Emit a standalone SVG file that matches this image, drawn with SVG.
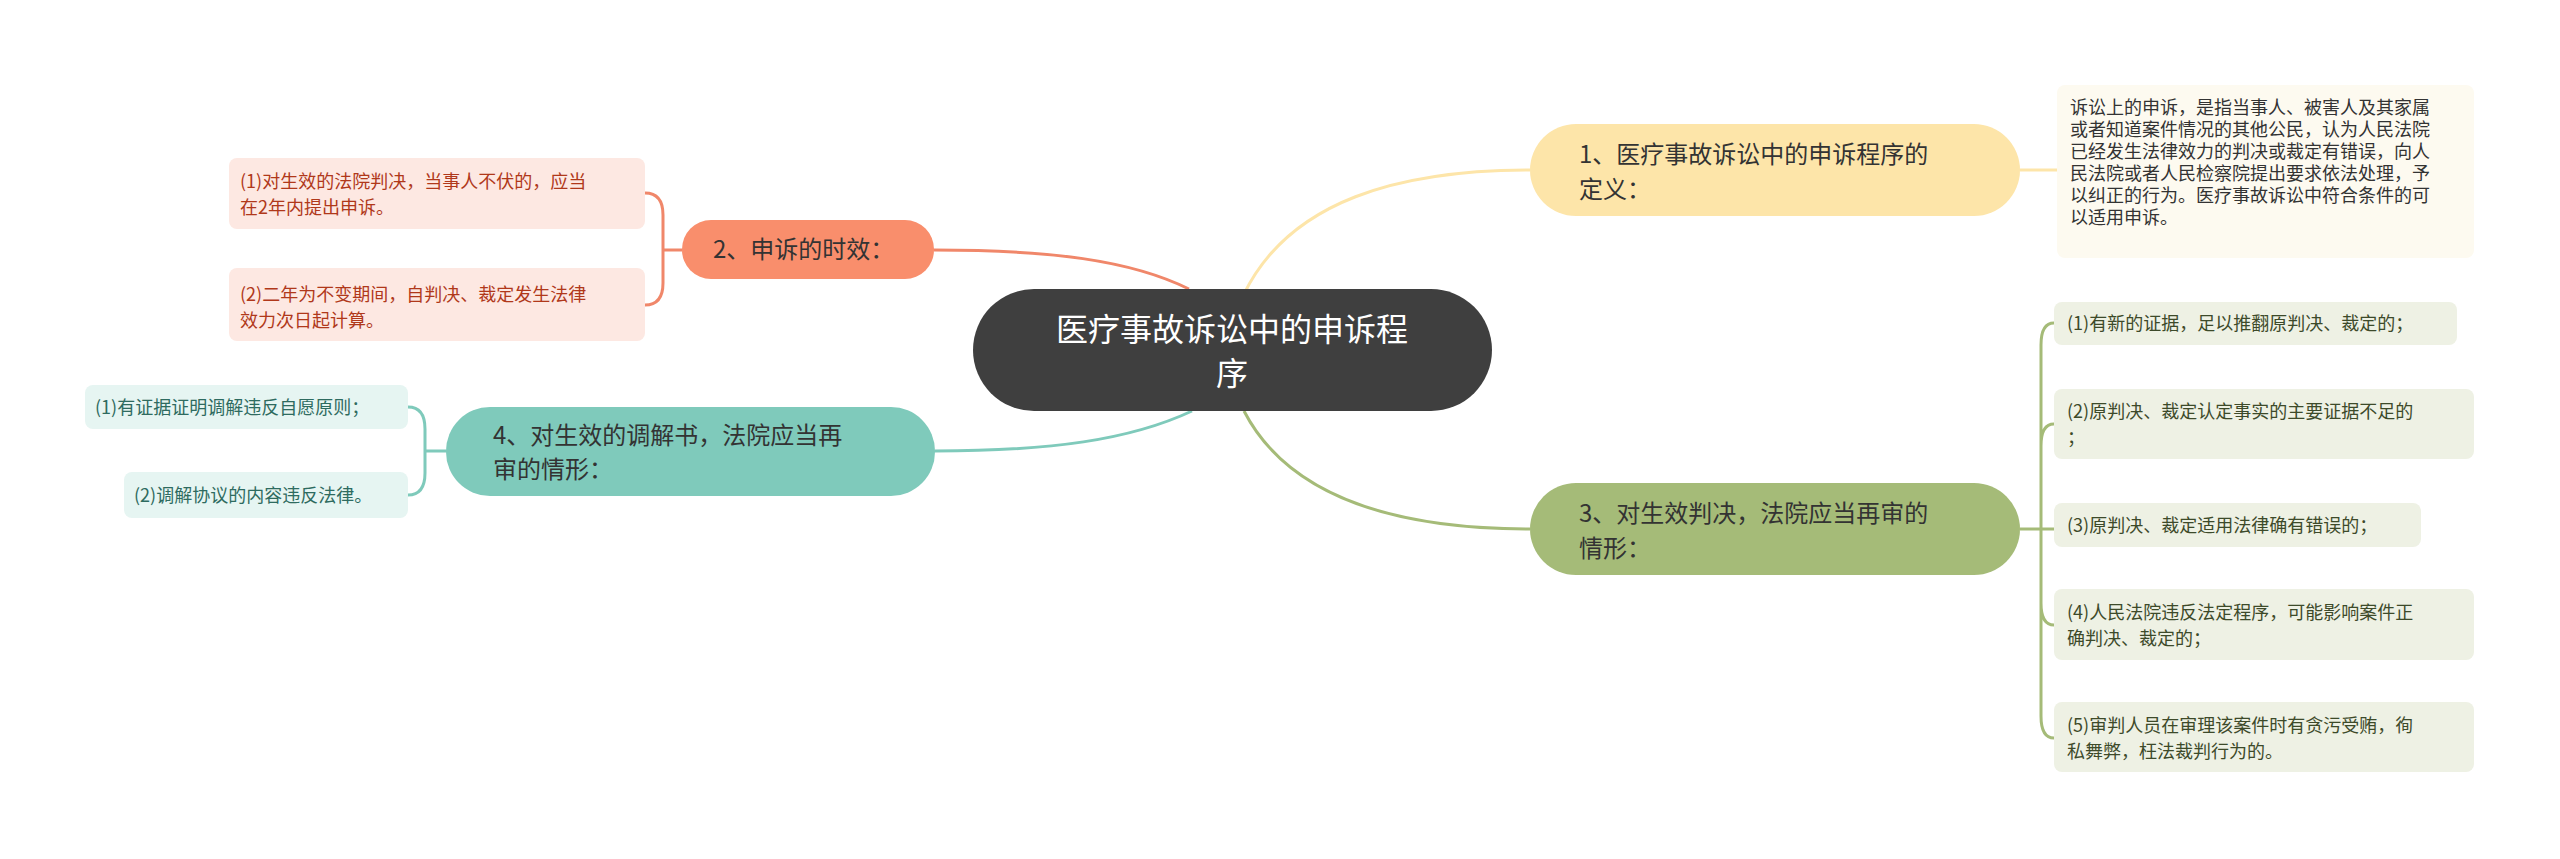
<svg xmlns="http://www.w3.org/2000/svg" width="2560" height="859" viewBox="0 0 2560 859">
<style>
text{font-family:"Noto Sans CJK SC","Liberation Sans",sans-serif}
.c{fill:none;stroke-width:3}
.m{font-size:24px;fill:#333}
.l{font-size:18px}
</style>
<rect width="2560" height="859" fill="#fff"/>
<g id="connectors">
<path class="c" stroke="#fde5a9" d="M1244,294 C1290,200 1400,170 1530,170"/>
<path class="c" stroke="#a5bb78" d="M1244,411 C1290,500 1400,529 1530,529"/>
<path class="c" stroke="#f0876a" d="M1189,289 C1130,260 1050,250 934,250"/>
<path class="c" stroke="#7fcabb" d="M1192,411 C1130,440 1050,451 935,451"/>
<path class="c" stroke="#fde5a9" d="M2020,170 H2057"/>
<path class="c" stroke="#a5bb78" d="M2020,529 H2041 M2041,529 V345 Q2041,323 2054,323 M2041,529 V446 Q2041,424 2054,424 M2041,529 H2054 M2041,529 V603 Q2041,625 2054,625 M2041,529 V716 Q2041,738 2054,738"/>
<path class="c" stroke="#f0876a" d="M682,250 H663 M663,250 V215 Q663,193 645,193 M663,250 V283 Q663,305 645,305"/>
<path class="c" stroke="#7fcabb" d="M446,451 H425 M425,451 V429 Q425,407 408,407 M425,451 V473 Q425,495 408,495"/>
</g>
<g id="center"><rect x="973" y="289" width="519" height="122" rx="61" fill="#3f3f3f"/>
<text x="1232" y="341" font-size="32" fill="#fff" text-anchor="middle">医疗事故诉讼中的申诉程</text>
<text x="1232" y="385" font-size="32" fill="#fff" text-anchor="middle">序</text></g>
<g id="n1"><rect x="1530" y="124" width="490" height="92" rx="46" fill="#fde5a9"/>
<text class="m" x="1579" y="163">1、医疗事故诉讼中的申诉程序的</text><text class="m" x="1579" y="198">定义：</text></g>
<g id="l1"><rect x="2057" y="85" width="417" height="173" rx="8" fill="#fdfaf0"/>
<text class="l" fill="#333"><tspan x="2070" y="114">诉讼上的申诉，是指当事人、被害人及其家属</tspan><tspan x="2070" y="136">或者知道案件情况的其他公民，认为人民法院</tspan><tspan x="2070" y="158">已经发生法律效力的判决或裁定有错误，向人</tspan><tspan x="2070" y="180">民法院或者人民检察院提出要求依法处理，予</tspan><tspan x="2070" y="202">以纠正的行为。医疗事故诉讼中符合条件的可</tspan><tspan x="2070" y="224">以适用申诉。</tspan></text></g>
<g id="n2"><rect x="682" y="220" width="252" height="59" rx="29" fill="#f98e6c"/>
<text class="m" x="713" y="258">2、申诉的时效：</text></g>
<g id="l2a"><rect x="229" y="158" width="416" height="71" rx="8" fill="#fde8e2"/>
<text class="l" fill="#b0381a"><tspan x="240" y="188">(1)对生效的法院判决，当事人不伏的，应当</tspan><tspan x="240" y="214">在2年内提出申诉。</tspan></text></g>
<g id="l2b"><rect x="229" y="268" width="416" height="73" rx="8" fill="#fde8e2"/>
<text class="l" fill="#b0381a"><tspan x="240" y="301">(2)二年为不变期间，自判决、裁定发生法律</tspan><tspan x="240" y="327">效力次日起计算。</tspan></text></g>
<g id="n4"><rect x="446" y="407" width="489" height="89" rx="44" fill="#7fcabb"/>
<text class="m" x="493" y="444">4、对生效的调解书，法院应当再</text><text class="m" x="493" y="478">审的情形：</text></g>
<g id="l4a"><rect x="85" y="385" width="323" height="44" rx="8" fill="#e6f5f2"/>
<text class="l" fill="#2e6b60" x="95" y="414">(1)有证据证明调解违反自愿原则；</text></g>
<g id="l4b"><rect x="124" y="472" width="284" height="46" rx="8" fill="#e6f5f2"/>
<text class="l" fill="#2e6b60" x="134" y="502">(2)调解协议的内容违反法律。</text></g>
<g id="n3"><rect x="1530" y="483" width="490" height="92" rx="46" fill="#a5bb78"/>
<text class="m" x="1579" y="522">3、对生效判决，法院应当再审的</text><text class="m" x="1579" y="557">情形：</text></g>
<g fill="#eef1e4">
<g id="l3a"><rect x="2054" y="302" width="403" height="43" rx="8"/><text class="l" fill="#3d4a2a" x="2067" y="330">(1)有新的证据，足以推翻原判决、裁定的；</text></g>
<g id="l3b"><rect x="2054" y="389" width="420" height="70" rx="8"/><text class="l" fill="#3d4a2a"><tspan x="2067" y="418">(2)原判决、裁定认定事实的主要证据不足的</tspan><tspan x="2067" y="444">；</tspan></text></g>
<g id="l3c"><rect x="2054" y="503" width="367" height="44" rx="8"/><text class="l" fill="#3d4a2a" x="2067" y="532">(3)原判决、裁定适用法律确有错误的；</text></g>
<g id="l3d"><rect x="2054" y="589" width="420" height="71" rx="8"/><text class="l" fill="#3d4a2a"><tspan x="2067" y="619">(4)人民法院违反法定程序，可能影响案件正</tspan><tspan x="2067" y="645">确判决、裁定的；</tspan></text></g>
<g id="l3e"><rect x="2054" y="702" width="420" height="70" rx="8"/><text class="l" fill="#3d4a2a"><tspan x="2067" y="732">(5)审判人员在审理该案件时有贪污受贿，徇</tspan><tspan x="2067" y="758">私舞弊，枉法裁判行为的。</tspan></text></g>
</g>
</svg>
